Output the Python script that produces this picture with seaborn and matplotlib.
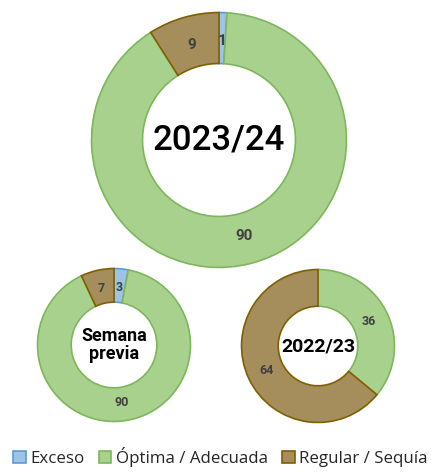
import matplotlib
matplotlib.use("Agg")
import matplotlib.pyplot as plt
from matplotlib.patches import Patch
import seaborn as sns

# ---- data ----
categories = ["Exceso", "Óptima / Adecuada", "Regular / Sequía"]
current = [1, 90, 9]          # 2023/24
previous_week = [3, 90, 7]    # Semana previa
last_year = [0, 36, 64]       # 2022/23
titles = ["2023/24", "Semana\nprevia", "2022/23"]

sns.set_theme(style="white")
plt.rcParams["font.family"] = ["Roboto", "DejaVu Sans"]

face = ["#9DC3E6", "#A9D18E", "#A68D5C"]
edge = ["#5B9BD5", "#7DB65B", "#7F6000"]

W, H = 438, 473
fig = plt.figure(figsize=(W / 100, H / 100), dpi=100)
fig.patch.set_facecolor("white")


def px_axes(cx, cy, r):
    return fig.add_axes([(cx - r) / W, (H - cy - r) / H, 2 * r / W, 2 * r / H])


def donut(ax, values, width, title, tsize, tweight, lsize):
    vals, fc, ec = [], [], []
    for v, f, e in zip(values, face, edge):
        if v > 0:
            vals.append(v)
            fc.append(f)
            ec.append(e)
    it = iter(vals)
    wedges, _, autotexts = ax.pie(
        vals, colors=fc, startangle=90, counterclock=False, radius=1.0,
        wedgeprops=dict(width=width, linewidth=1.2),
        autopct=lambda p: f"{next(it)}", pctdistance=1 - width / 2 - 0.02,
        textprops=dict(color="#404040", fontsize=lsize, fontweight="bold"),
    )
    for w, e in zip(wedges, ec):
        w.set_edgecolor(e)
    ax.text(0, 0, title, ha="center", va="center", fontsize=tsize,
            fontweight=tweight, color="black", linespacing=1.05)
    ax.set_xlim(-1.02, 1.02)
    ax.set_ylim(-1.02, 1.02)
    ax.set_aspect("equal")
    ax.axis("off")


ax1 = px_axes(219, 140, 130)
donut(ax1, current, 0.4, titles[0], 25, "medium", 11)

ax2 = px_axes(114, 345, 78)
donut(ax2, previous_week, 0.44, titles[1], 13, "bold", 9)

ax3 = px_axes(318, 346, 78)
donut(ax3, last_year, 0.48, titles[2], 14, "bold", 9)

handles = [Patch(facecolor=f, edgecolor=e, linewidth=1.2, label=c)
           for f, e, c in zip(face, edge, categories)]
fig.legend(handles=handles, loc="lower center", bbox_to_anchor=(0.503, 0.0),
           ncol=3, frameon=False, handlelength=0.75,
           handleheight=0.75, handletextpad=0.25, columnspacing=0.85,
           borderaxespad=0.15, borderpad=0.2,
           prop={"family": ["Open Sans", "DejaVu Sans"], "size": 12.2})

fig.savefig("out.png", dpi=100, facecolor="white")
